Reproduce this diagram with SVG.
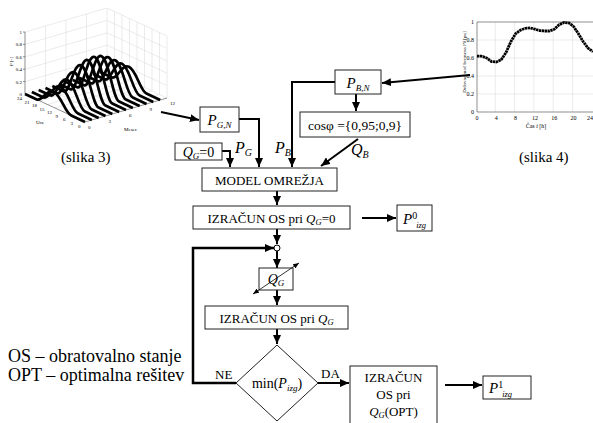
<svg xmlns="http://www.w3.org/2000/svg" width="593" height="423" viewBox="0 0 593 423" font-family="'Liberation Serif', 'DejaVu Serif', serif">
<style>
text{font-family:'Liberation Serif','DejaVu Serif',serif;fill:#000}
.box{fill:#fff;stroke:#222;stroke-width:1}
.c{fill:none;stroke:#000;stroke-width:2}
.t{font-size:13px}
.i{font-style:italic}
.g{stroke:#ddd;stroke-width:0.6;fill:none}
.ax{stroke:#444;stroke-width:0.6;fill:none}
.tk{font-size:5px;fill:#444}
</style>
<defs>
<marker id="ah" markerWidth="9" markerHeight="8" refX="9" refY="4" orient="auto" markerUnits="userSpaceOnUse"><path d="M0,0 L9,4 L0,8 z" fill="#000"/></marker>
<marker id="sa" markerWidth="6" markerHeight="5" refX="6" refY="2.5" orient="auto-start-reverse" markerUnits="userSpaceOnUse"><path d="M0,0 L6,2.5 L0,5 z" fill="#000"/></marker>
<path id="bell" fill="none" stroke="#000" stroke-width="2.7" stroke-linejoin="round" vector-effect="non-scaling-stroke" d="M0,0 L5.5,0 C8,0 9.5,1 12.5,1 C15.5,1 17,0 19.5,0 L24,0"/>
</defs>

<!-- slika 3: 3D plot -->
<g id="plot3">
<path class="g" d="M25,81.6 L107,57.6 M25,69.2 L107,45.2 M25,56.8 L107,32.8 M25,44.4 L107,20.4 M25,32 L107,8 M45.5,88 V26 M66,82 V20 M86.5,76 V14 M107,70 V8"/>
<path class="g" d="M167,85.6 L107,57.6 M167,73.2 L107,45.2 M167,60.8 L107,32.8 M167,48.4 L107,20.4 M167,36 L107,8 M159.5,94.5 V32.5 M152,91 V29 M144.5,87.5 V25.5 M137,84 V22 M129.5,80.5 V18.5 M122,77 V15 M114.5,73.5 V11.5 M167,98 V36"/>
<path class="g" d="M105.5,116 L45.5,88 M126,110 L66,82 M146.5,104 L86.5,76 M77.5,118.5 L159.5,94.5 M70,115 L152,91 M62.5,111.5 L144.5,87.5 M55,108 L137,84 M47.5,104.5 L129.5,80.5 M40,101 L122,77 M32.5,97.5 L114.5,73.5 M25,94 L107,70 L167,98"/>
<path class="ax" d="M25,32 V94 L85,122 L167,98 M25,81.6 h-2 M25,69.2 h-2 M25,56.8 h-2 M25,44.4 h-2 M25,32 h-2"/>
<g class="tk" text-anchor="end">
<text x="22" y="96">0</text><text x="22" y="83.5">0.2</text><text x="22" y="71">0.4</text><text x="22" y="58.5">0.6</text><text x="22" y="46">0.8</text><text x="22" y="34">1</text>
<text x="22" y="100">24</text><text x="29.5" y="103.5">21</text><text x="37" y="107">18</text><text x="44.5" y="110.5">15</text><text x="52" y="114">12</text><text x="58" y="117.5">9</text><text x="65.5" y="121">6</text><text x="73" y="124.5">3</text><text x="80.5" y="128">0</text>
</g>
<g class="tk">
<text x="88" y="129">0</text><text x="108.5" y="123">3</text><text x="129" y="117">6</text><text x="149.5" y="111">9</text><text x="170" y="105">12</text>
<text x="36" y="124">Ura</text><text x="124" y="131">Mesec</text>
<text transform="translate(13,66) rotate(-90)">P [-]</text>
</g>
<g>
<use href="#bell" transform="matrix(-2.5,-1.1667,0,-15.5,85,122)"/>
<use href="#bell" transform="matrix(-2.5,-1.1667,0,-18.6,91.83,120)"/>
<use href="#bell" transform="matrix(-2.5,-1.1667,0,-23.6,98.67,118)"/>
<use href="#bell" transform="matrix(-2.5,-1.1667,0,-29.1,105.5,116)"/>
<use href="#bell" transform="matrix(-2.5,-1.1667,0,-34.1,112.33,114)"/>
<use href="#bell" transform="matrix(-2.5,-1.1667,0,-37.2,119.17,112)"/>
<use href="#bell" transform="matrix(-2.5,-1.1667,0,-38.4,126,110)"/>
<use href="#bell" transform="matrix(-2.5,-1.1667,0,-37.2,132.83,108)"/>
<use href="#bell" transform="matrix(-2.5,-1.1667,0,-34.1,139.67,106)"/>
<use href="#bell" transform="matrix(-2.5,-1.1667,0,-29.1,146.5,104)"/>
<use href="#bell" transform="matrix(-2.5,-1.1667,0,-23.6,153.33,102)"/>
<use href="#bell" transform="matrix(-2.5,-1.1667,0,-18.6,160.17,100)"/>
</g>
</g>
<text x="61" y="162" style="font-size:15px">(slika 3)</text>

<!-- slika 4: load curve -->
<g id="plot4">
<path class="g" d="M495.3,22 V112 M514.6,22 V112 M533.9,22 V112 M553.2,22 V112 M572.6,22 V112 M477,40 H593 M477,58 H593 M477,76 H593 M477,94 H593"/>
<path class="ax" d="M593,22 H477 V112 H593"/>
<g class="tk" text-anchor="end" style="font-size:6px">
<text x="474" y="24">1</text><text x="474" y="42">0.8</text><text x="474" y="60">0.6</text><text x="474" y="78">0.4</text><text x="474" y="96">0.2</text><text x="474" y="114">0</text>
</g>
<g class="tk" text-anchor="middle" style="font-size:6px">
<text x="477" y="120">0</text><text x="496.3" y="120">4</text><text x="515.6" y="120">8</text><text x="535" y="120">12</text><text x="554.3" y="120">16</text><text x="573.6" y="120">20</text><text x="593" y="120" text-anchor="end">24</text>
<text x="536" y="128">Čas <tspan font-style="italic">t</tspan> [h]</text>
<text transform="translate(466,62) rotate(-90)" style="font-size:5px">Delovna moč bremena <tspan font-style="italic">P</tspan><tspan style="font-size:3.5px" font-style="italic">B</tspan> [pu]</text>
</g>
<polyline fill="none" stroke="#000" stroke-width="2.8" stroke-linejoin="round" stroke-dasharray="2.4 0.5" points="477,56.2 481.8,56.2 486.7,58 491.5,61.6 496.3,62 501.2,59.8 506,52.6 510.8,41.8 515.6,33.7 520.5,30.1 525.3,28.3 530.1,27.9 535,29.2 539.8,30.6 544.6,31 549.5,31 554.3,29.2 559.1,24.7 563.9,22.5 568.8,22.9 573.6,26.5 578.4,33.7 583.3,41.8 588.1,48.1 593,51.7"/>
</g>
<text x="519" y="162" style="font-size:15px">(slika 4)</text>

<!-- connectors -->
<g id="connectors">
<path class="c" d="M161,112 L199,120" marker-end="url(#ah)"/>
<path class="c" d="M470,75 L382,83" marker-end="url(#ah)"/>
<path class="c" d="M356,94 V111" marker-end="url(#ah)"/>
<path class="c" d="M335,82 H292 V167" marker-end="url(#ah)"/>
<path class="c" d="M239,119 H259 V167" marker-end="url(#ah)"/>
<path class="c" d="M222,151 H230 V167" marker-end="url(#ah)"/>
<path class="c" d="M358,139 L321,166" marker-end="url(#ah)"/>
<path class="c" d="M277,191 V205" marker-end="url(#ah)"/>
<path class="c" d="M362,218 H396" marker-end="url(#ah)"/>
<path class="c" d="M277,229 V244" marker-end="url(#ah)"/>
<path class="c" d="M277,251 V268" marker-end="url(#ah)"/>
<path class="c" d="M277,290 V305" marker-end="url(#ah)"/>
<path class="c" d="M277,329 V344" marker-end="url(#ah)"/>
<path class="c" d="M318,383 H349" marker-end="url(#ah)"/>
<path class="c" d="M445,385 H482" marker-end="url(#ah)"/>
<path class="c" style="stroke-width:2.5" d="M236,383 H193 V248 H274" marker-end="url(#ah)"/>
</g>

<!-- nodes -->
<g id="PBN"><rect class="box" x="335" y="70" width="46" height="24"/>
<text x="358" y="88" text-anchor="middle" style="font-size:15px"><tspan class="i">P</tspan><tspan class="i" dy="3" style="font-size:9px">B,N</tspan></text></g>
<g id="cosphi"><rect class="box" x="300" y="112" width="110" height="25"/>
<text x="355" y="130" text-anchor="middle" style="font-size:13.5px">cosφ ={0,95;0,9}</text></g>
<g id="PGN"><rect class="box" x="200" y="107" width="39" height="25"/>
<text x="219.5" y="125" text-anchor="middle" style="font-size:15px"><tspan class="i">P</tspan><tspan class="i" dy="3" style="font-size:9px">G,N</tspan></text></g>
<g id="QG0"><rect class="box" x="175" y="143" width="47" height="17"/>
<text x="198.5" y="157" text-anchor="middle" style="font-size:14px"><tspan class="i">Q</tspan><tspan class="i" dy="2" style="font-size:9px">G</tspan><tspan dy="-2">=0</tspan></text></g>
<g id="lblPG"><text x="235" y="153" style="font-size:16px"><tspan class="i">P</tspan><tspan class="i" dy="3" style="font-size:10px">G</tspan></text></g>
<g id="lblPB"><text x="275" y="153" style="font-size:16px"><tspan class="i">P</tspan><tspan class="i" dy="3" style="font-size:10px">B</tspan></text></g>
<g id="lblQB"><text x="351" y="155" style="font-size:16px"><tspan class="i">Q</tspan><tspan class="i" dy="3" style="font-size:10px">B</tspan></text></g>
<g id="model"><rect class="box" x="202" y="168" width="135" height="23"/>
<text x="269.5" y="184.5" text-anchor="middle" class="t">MODEL OMREŽJA</text></g>
<g id="calc0"><rect class="box" x="193" y="206" width="157" height="23"/>
<text x="271.5" y="222.5" text-anchor="middle" class="t">IZRAČUN OS pri <tspan class="i">Q</tspan><tspan class="i" dy="2" style="font-size:8.5px">G</tspan><tspan dy="-2">=0</tspan></text></g>
<g id="P0"><rect class="box" x="397" y="205" width="35" height="26"/>
<text x="403" y="224" style="font-size:15px"><tspan class="i">P</tspan><tspan dy="-5" style="font-size:10px">0</tspan><tspan class="i" dy="9" dx="-1" style="font-size:8.5px">izg</tspan></text></g>
<g id="junction"><circle cx="277" cy="248" r="3" fill="#fff" stroke="#000" stroke-width="1"/></g>
<g id="QG"><rect class="box" x="259" y="268" width="34" height="22"/>
<text x="276" y="284" text-anchor="middle" style="font-size:14px"><tspan class="i">Q</tspan><tspan class="i" dy="2" style="font-size:9px">G</tspan></text>
<line x1="253" y1="294" x2="299" y2="263" stroke="#000" stroke-width="0.8" marker-start="url(#sa)" marker-end="url(#sa)"/></g>
<g id="calcQG"><rect class="box" x="205" y="306" width="143" height="23"/>
<text x="276.5" y="322.5" text-anchor="middle" class="t">IZRAČUN OS pri <tspan class="i">Q</tspan><tspan class="i" dy="2" style="font-size:8.5px">G</tspan></text></g>
<g id="decision"><path class="box" d="M277,345 L318,383 L277,421 L236,383 Z"/>
<text x="277" y="388" text-anchor="middle" style="font-size:14px">min(<tspan class="i">P</tspan><tspan class="i" dy="3" style="font-size:9px">izg</tspan><tspan dy="-3">)</tspan></text></g>
<text x="215" y="379" style="font-size:13px">NE</text>
<text x="321" y="378" style="font-size:13px">DA</text>
<g id="calcOPT"><rect class="box" x="350" y="366" width="87" height="60"/>
<text text-anchor="middle" class="t"><tspan x="393.5" y="382">IZRAČUN</tspan><tspan x="393.5" y="399">OS pri</tspan><tspan x="393.5" y="416"><tspan class="i">Q</tspan><tspan class="i" dy="2" style="font-size:8.5px">G</tspan><tspan dy="-2">(OPT)</tspan></tspan></text></g>
<g id="P1"><rect class="box" x="483" y="376" width="48" height="23"/>
<text x="489" y="393" style="font-size:15px"><tspan class="i">P</tspan><tspan dy="-5" style="font-size:10px">1</tspan><tspan class="i" dy="9" dx="-1" style="font-size:8.5px">izg</tspan></text></g>
<g id="legend" style="font-size:18px">
<text x="8" y="362">OS – obratovalno stanje</text>
<text x="8" y="381">OPT – optimalna rešitev</text>
</g>
</svg>
